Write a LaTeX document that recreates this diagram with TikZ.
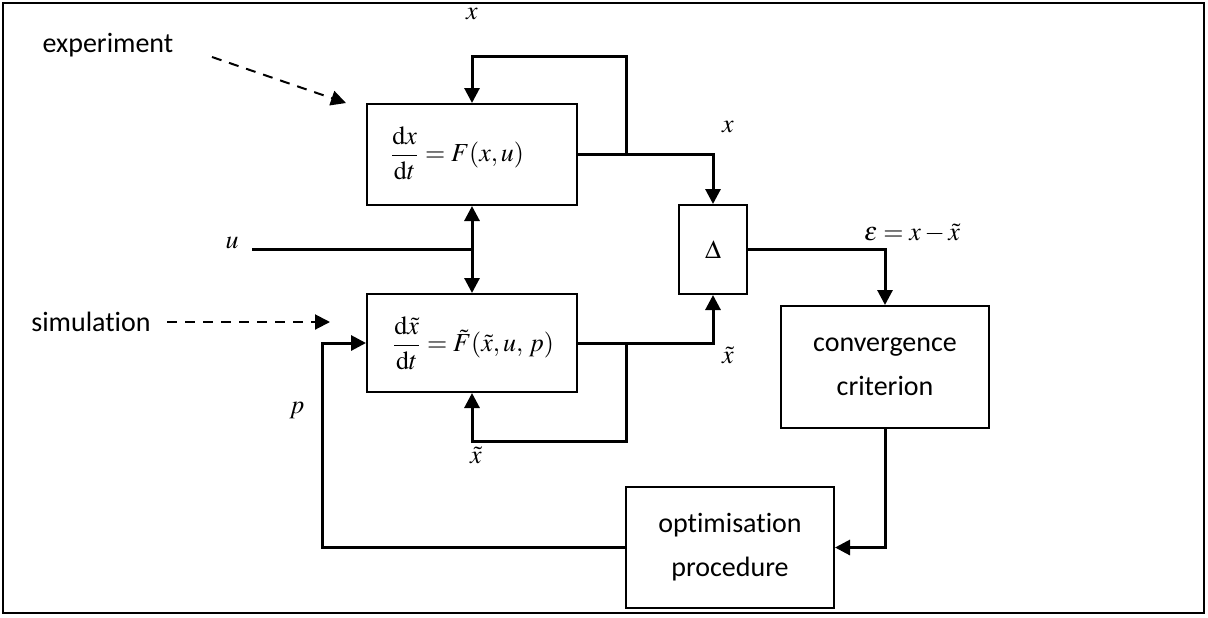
\documentclass[tikz,border=0pt]{standalone}
\usepackage{mathptmx}
\usepackage[no-math]{fontspec}
\setmainfont{Carlito}[RawFeature=-liga]
\usetikzlibrary{arrows.meta,calc}
\begin{document}
\begin{tikzpicture}[x=0.5pt,y=-0.5pt,
  box/.style={draw,line width=1pt,inner sep=0pt,align=center,font=\fontsize{14}{18}\selectfont},
  mtxt/.style={inner sep=0pt,font=\fontsize{13}{15}\selectfont},
  lbl/.style={inner sep=0pt,font=\fontsize{14}{17}\selectfont},
  wire/.style={line width=1.5pt},
  arr/.style={wire,-{Triangle[length=7.5pt,width=7.5pt]}},
  darr/.style={wire,{Triangle[length=7.5pt,width=7.5pt]}-{Triangle[length=7.5pt,width=7.5pt]}},
  dasharr/.style={line width=1pt,dash pattern=on 5pt off 4pt,-{Triangle[length=7.5pt,width=7.5pt]}}]
\useasboundingbox (0,0) rectangle (1208,617);
\draw[line width=1pt] (3,3) rectangle (1204,613);
% boxes
\node[box,minimum width=105pt,minimum height=50.5pt] (sys) at (472,154.5) {};
\node[mtxt] (eqs) at (457,153) {$\displaystyle\frac{\mathrm{d}x}{\mathrm{d}t}=F(x,u)$};
\node[box,minimum width=105pt,minimum height=49pt] (sim) at (472,343) {};
\node[mtxt] (eqsim) at (473,343) {$\displaystyle\frac{\mathrm{d}\tilde{x}}{\mathrm{d}t}=\tilde{F}(\tilde{x},u,\,p)$};
\node[box,minimum width=34pt,minimum height=44.5pt,font=\fontsize{13}{15}\selectfont] (delta) at (713,249.5) {$\Delta$};
\node[box,minimum width=104pt,minimum height=61pt] (conv) at (885,367) {convergence\\[4pt]criterion};
\node[box,minimum width=104pt,minimum height=60.5pt] (opt) at (730,547.5) {optimisation\\[4pt]procedure};
% labels
\node[lbl] (exp) at (108,45) {experiment};
\node[lbl] (simlbl) at (91,322) {simulation};
\node[mtxt] (lx1) at (472,14) {$x$};
\node[mtxt] (lx2) at (728,127) {$x$};
\node[mtxt] (lu) at (232,243) {$u$};
\node[mtxt] (leps) at (912,233) {$\varepsilon=x-\tilde{x}$};
\node[mtxt] (lxt1) at (728,355) {$\tilde{x}$};
\node[mtxt] (lxt2) at (476,455) {$\tilde{x}$};
\node[mtxt] (lp) at (297,410) {$p$};
% dashed arrows
\coordinate (e1) at (212,57);
\coordinate (e2) at (346,103);
\draw[dasharr] (e1) -- (e2);
\coordinate (s1) at (167,322);
\coordinate (s2) at (330,322);
\draw[dasharr] (s1) -- (s2);
% connectors
\coordinate (fbT) at (626,56);
\coordinate (fbB) at (626,441);
\draw[arr] (sys.east) -| (delta.north);
\draw[arr] (sys.east -| fbT) -- (fbT) -| (sys.north);
\draw[arr] (sim.east) -| (delta.south);
\draw[arr] (sim.east -| fbB) -- (fbB) -| (sim.south);
\coordinate (ustart) at (252,249);
\draw[wire] (ustart) -- (ustart -| sys.south);
\draw[darr] (sys.south) -- (sim.north);
\draw[arr] (delta.east) -| (conv.north);
\draw[arr] (conv.south) |- (opt.east);
\coordinate (pc) at (322,0);
\draw[arr] (opt.west) -- (opt.west -| pc) |- (sim.west);
\end{tikzpicture}
\end{document}
